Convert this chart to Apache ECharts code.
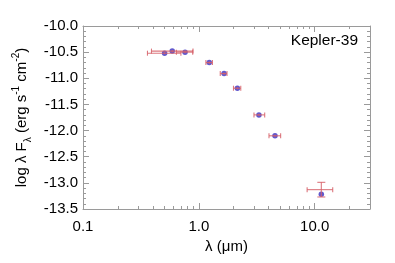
<!DOCTYPE html>
<html>
<head>
<meta charset="utf-8">
<script src="https://cdn.jsdelivr.net/npm/echarts@6/dist/echarts.min.js"></script>
<style>html,body{margin:0;padding:0;background:#fff;}#c{width:395px;height:263px;}</style>
</head>
<body>
<div id="c"></div>
<script>
// Wavelengths (micron) of photometric points
const wavelengths = [0.506, 0.589, 0.76, 1.23, 1.65, 2.15, 3.30, 4.54, 11.4];
// Observed log(lambda F_lambda)
const obsFlux = [-10.52, -10.48, -10.50, -10.70, -10.91, -11.19, -11.70, -12.10, -13.13];
// Model log(lambda F_lambda)
const modelFlux = [-10.52, -10.48, -10.50, -10.70, -10.91, -11.19, -11.70, -12.10, -13.22];
// Filter wavelength extents (error bars in x)
const waveLow = [0.36, 0.39, 0.64, 1.15, 1.53, 1.99, 2.99, 4.03, 8.6];
const waveHigh = [0.70, 0.89, 0.885, 1.31, 1.75, 2.30, 3.70, 5.08, 14.3];
// Flux uncertainties
const fluxErr = [0.02, 0.02, 0.02, 0.02, 0.02, 0.02, 0.02, 0.02, 0.14];
// Axis ticks
const xMajorTicks = [0.1, 1, 10];
const xMinorTicks = [0.2,0.3,0.4,0.5,0.6,0.7,0.8,0.9,2,3,4,5,6,7,8,9,20,30];

const FONT = 'Liberation Sans';
const AXC = '#9a9a9a';
const GRID = {left: 83, right: 25, top: 26, bottom: 54};

const modelData = wavelengths.map((w, i) => [w, modelFlux[i]]);
const errData = wavelengths.map((w, i) => [w, obsFlux[i], waveLow[i], waveHigh[i], obsFlux[i] - fluxErr[i], obsFlux[i] + fluxErr[i]]);

function baseX(grid, pos) {
  return {
    type: 'log', gridIndex: grid, position: pos, min: 0.1, max: 30, logBase: 10,
    splitLine: {show: false}, minorTick: {show: false}, minorSplitLine: {show: false}
  };
}

const chart = echarts.init(document.getElementById('c'), null, {renderer: 'canvas'});
chart.setOption({
  animation: false,
  backgroundColor: '#fff',
  title: {
    text: 'Kepler-39', right: 32, top: 28,
    textStyle: {fontFamily: FONT, fontSize: 15.5, fontWeight: 'normal', color: '#000'}
  },
  grid: [Object.assign({}, GRID), Object.assign({}, GRID)],
  xAxis: [
    Object.assign(baseX(0, 'bottom'), {
      name: 'λ (μm)', nameLocation: 'middle', nameGap: 29,
      nameTextStyle: {fontFamily: FONT, fontSize: 15, color: '#000'},
      axisLine: {show: true, lineStyle: {color: AXC, width: 1}},
      axisTick: {show: true, inside: true, length: 6, customValues: xMajorTicks, lineStyle: {color: AXC}},
      axisLabel: {show: true, customValues: xMajorTicks, margin: 10, fontFamily: FONT, fontSize: 15, color: '#000',
        formatter: v => Number(v).toFixed(1)}
    }),
    Object.assign(baseX(0, 'top'), {
      axisLine: {show: true, lineStyle: {color: AXC, width: 1}},
      axisTick: {show: true, inside: true, length: 6, customValues: xMajorTicks, lineStyle: {color: AXC}},
      axisLabel: {show: false}
    }),
    Object.assign(baseX(1, 'bottom'), {
      axisLine: {show: false},
      axisTick: {show: true, inside: true, length: 3, customValues: xMinorTicks, lineStyle: {color: AXC}},
      axisLabel: {show: false}
    }),
    Object.assign(baseX(1, 'top'), {
      axisLine: {show: false},
      axisTick: {show: true, inside: true, length: 3, customValues: xMinorTicks, lineStyle: {color: AXC}},
      axisLabel: {show: false}
    })
  ],
  yAxis: [
    {
      type: 'value', gridIndex: 0, position: 'left', min: -13.5, max: -10, interval: 0.5,
      name: 'log λ F{sub|λ} (erg s{sup|-1} cm{sup|-2})', nameLocation: 'middle', nameGap: 50,
      nameTextStyle: {fontFamily: FONT, fontSize: 15, color: '#000',
        rich: {
          sub: {fontFamily: FONT, fontSize: 10, color: '#000', verticalAlign: 'bottom', lineHeight: 22},
          sup: {fontFamily: FONT, fontSize: 10, color: '#000', verticalAlign: 'top', lineHeight: 12}
        }},
      splitLine: {show: false},
      axisLine: {show: true, lineStyle: {color: AXC, width: 1}},
      axisTick: {show: true, inside: true, length: 6, lineStyle: {color: AXC}},
      minorTick: {show: true, splitNumber: 5, length: 3, lineStyle: {color: AXC}},
      axisLabel: {show: true, margin: 5, fontFamily: FONT, fontSize: 15, color: '#000',
        formatter: v => Number(v).toFixed(1)}
    },
    {
      type: 'value', gridIndex: 0, position: 'right', min: -13.5, max: -10, interval: 0.5,
      splitLine: {show: false},
      axisLine: {show: true, lineStyle: {color: AXC, width: 1}},
      axisTick: {show: true, inside: true, length: 6, lineStyle: {color: AXC}},
      minorTick: {show: true, splitNumber: 5, length: 3, lineStyle: {color: AXC}},
      axisLabel: {show: false}
    },
    {type: 'value', gridIndex: 1, min: -13.5, max: -10, show: false},
    {type: 'value', gridIndex: 1, position: 'right', min: -13.5, max: -10, show: false}
  ],
  series: [
    {
      type: 'scatter', xAxisIndex: 0, yAxisIndex: 0, data: modelData,
      symbol: 'circle', symbolSize: 5.5, itemStyle: {color: '#3b2fc0'}, z: 2
    },
    {
      type: 'custom', xAxisIndex: 0, yAxisIndex: 0, data: errData, z: 3,
      renderItem: function (params, api) {
        const c = api.coord([api.value(0), api.value(1)]);
        const lo = api.coord([api.value(2), api.value(1)]);
        const hi = api.coord([api.value(3), api.value(1)]);
        const yl = api.coord([api.value(0), api.value(4)]);
        const yh = api.coord([api.value(0), api.value(5)]);
        const st = {stroke: 'rgba(214,96,104,0.85)', lineWidth: 1.1};
        const ch = [
          {type: 'line', shape: {x1: lo[0], y1: c[1], x2: hi[0], y2: c[1]}, style: st},
          {type: 'line', shape: {x1: lo[0], y1: c[1] - 2.5, x2: lo[0], y2: c[1] + 2.5}, style: st},
          {type: 'line', shape: {x1: hi[0], y1: c[1] - 2.5, x2: hi[0], y2: c[1] + 2.5}, style: st},
          {type: 'line', shape: {x1: c[0], y1: yl[1], x2: c[0], y2: yh[1]}, style: st}
        ];
        if (Math.abs(yl[1] - yh[1]) > 4) {
          ch.push({type: 'line', shape: {x1: c[0] - 4, y1: yl[1], x2: c[0] + 4, y2: yl[1]}, style: st});
          ch.push({type: 'line', shape: {x1: c[0] - 4, y1: yh[1], x2: c[0] + 4, y2: yh[1]}, style: st});
        }
        return {type: 'group', children: ch};
      }
    }
  ]
});
</script>
</body>
</html>
